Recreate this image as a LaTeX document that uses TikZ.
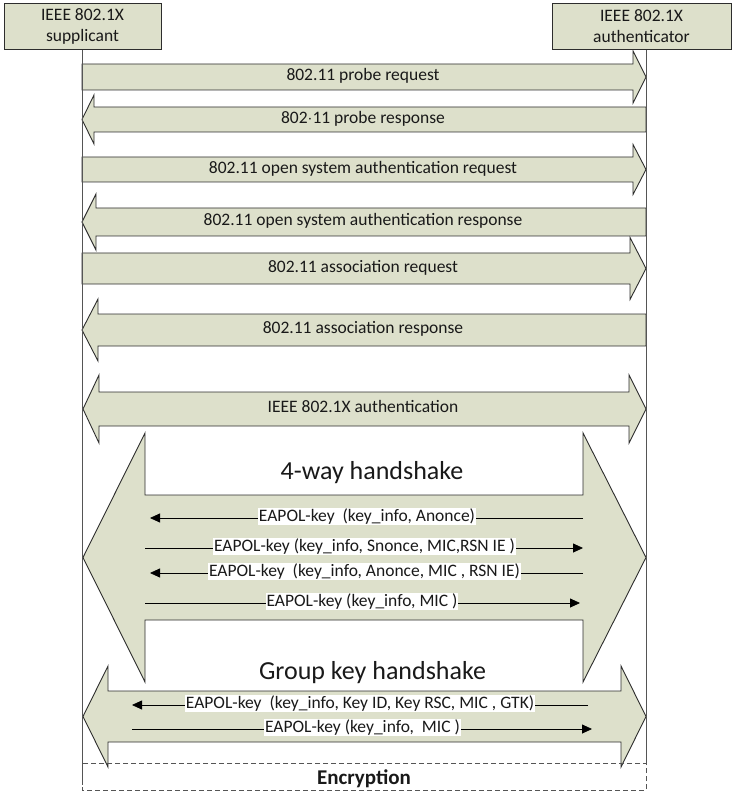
\documentclass[tikz,border=0pt]{standalone}
\usepackage{fontspec}
\setmainfont{Carlito}
\usetikzlibrary{arrows.meta}

\definecolor{boxfill}{RGB}{221,224,203}
\definecolor{edge}{RGB}{45,45,45}
\definecolor{life}{RGB}{85,85,85}
\definecolor{ink}{RGB}{25,25,25}

\tikzset{
  flow/.style={fill=boxfill, draw=edge, line width=0.9pt, line join=miter},
  entity/.style={rectangle, fill=boxfill, draw=edge, line width=0.9pt,
    minimum height=46pt, inner sep=0pt, align=center, text=ink,
    font=\fontsize{17.5}{21}\selectfont},
  lbl/.style={font=\fontsize{17.5}{21}\selectfont, text=ink, anchor=mid,
    inner sep=0pt, yshift=-1.5pt},
  title/.style={font=\fontsize{26}{30}\selectfont, text=ink, anchor=base, inner sep=0pt},
  keylbl/.style={fill=white, font=\fontsize{17.5}{21}\selectfont, text=ink,
    inner sep=1pt, anchor=mid, yshift=-1pt},
  keymsg/.style={draw=black, line width=0.8pt, -{Triangle[length=10pt,width=9pt]}},
  lifeline/.style={draw=life, line width=1pt},
  encbox/.style={draw=life, line width=0.8pt, dash pattern=on 5pt off 3pt},
}

% right-pointing message: centre y, body half height, head half height, head base x
\newcommand\msgRight[4]{%
  \draw[flow] (82,{#1-#2}) -- (#4,{#1-#2}) -- (#4,{#1-#3}) -- (646,#1)
    -- (#4,{#1+#3}) -- (#4,{#1+#2}) -- (82,{#1+#2}) -- cycle;}
% left-pointing message
\newcommand\msgLeft[4]{%
  \draw[flow] (646,{#1-#2}) -- (#4,{#1-#2}) -- (#4,{#1-#3}) -- (82,#1)
    -- (#4,{#1+#3}) -- (#4,{#1+#2}) -- (646,{#1+#2}) -- cycle;}
% two-way exchange: centre y, body half height, head half height, left base x, right base x
\newcommand\msgBoth[5]{%
  \draw[flow] (#4,{#1-#2}) -- (#5,{#1-#2}) -- (#5,{#1-#3}) -- (646,#1)
    -- (#5,{#1+#3}) -- (#5,{#1+#2}) -- (#4,{#1+#2}) -- (#4,{#1+#3})
    -- (83,#1) -- (#4,{#1-#3}) -- cycle;}

\begin{document}
\begin{tikzpicture}[x=1pt, y=-1pt]
  \useasboundingbox (0,0) rectangle (732,791);

  % end points of the two lifelines
  \coordinate (supTop) at (82,49);
  \coordinate (supBot) at (82,785);
  \coordinate (authTop) at (646,49);
  \coordinate (authBot) at (646,763);

  % message exchanges
  \msgRight{77}{13}{26}{633}
  \node[lbl] (probeReq) at (363,77) {802.11 probe request};

  \msgLeft{119.5}{12.5}{24.5}{94}
  \node[lbl] (probeResp) at (363,119.5) {802$\cdot$11 probe response};

  \msgRight{169.5}{12.5}{25}{633}
  \node[lbl] (openReq) at (363,169.5) {802.11 open system authentication request};

  \msgLeft{222}{14}{28}{96}
  \node[lbl] (openResp) at (363,222) {802.11 open system authentication response};

  \msgRight{268.5}{15.5}{31}{630}
  \node[lbl] (assocReq) at (363,268.5) {802.11 association request};

  \msgLeft{330}{16}{31}{98}
  \node[lbl] (assocResp) at (363,330) {802.11 association response};

  \msgBoth{409}{17}{34}{99}{629}
  \node[lbl] (dotx) at (363,409) {IEEE 802.1X authentication};

  % 4-way handshake
  \msgBoth{557.5}{62.5}{124.5}{145}{583}
  \node[title] (fourway) at (372,479) {4-way handshake};

  \coordinate (m1s) at (583,518); \coordinate (m1e) at (150,518);
  \coordinate (m2s) at (145,548); \coordinate (m2e) at (583,548);
  \coordinate (m3s) at (583,573); \coordinate (m3e) at (150,573);
  \coordinate (m4s) at (145,603); \coordinate (m4e) at (580,603);
  \draw[keymsg] (m1s) -- (m1e);
  \draw[keymsg] (m2s) -- (m2e);
  \draw[keymsg] (m3s) -- (m3e);
  \draw[keymsg] (m4s) -- (m4e);
  \node[keylbl] (m1) at (367,518) {EAPOL-key\ \ (key\_info, Anonce)};
  \node[keylbl] (m2) at (364.5,548) {EAPOL-key (key\_info, Snonce, MIC,RSN IE )};
  \node[keylbl] (m3) at (364.5,573) {EAPOL-key\ \ (key\_info, Anonce, MIC , RSN IE)};
  \node[keylbl] (m4) at (362,603) {EAPOL-key (key\_info, MIC )};

  % group key handshake
  \msgBoth{716.5}{25.5}{50.5}{108}{621}
  \node[title] (groupkey) at (372.5,679) {Group key handshake};

  \coordinate (g1s) at (588,705); \coordinate (g1e) at (132,705);
  \coordinate (g2s) at (132,729); \coordinate (g2e) at (592,729);
  \draw[keymsg] (g1s) -- (g1e);
  \draw[keymsg] (g2s) -- (g2e);
  \node[keylbl] (g1) at (360,705) {EAPOL-key\ \ (key\_info, Key ID, Key RSC, MIC , GTK)};
  \node[keylbl] (g2) at (362.5,729) {EAPOL-key (key\_info,\ \ MIC )};

  % lifelines
  \draw[lifeline] (supTop) -- (supBot);
  \draw[lifeline] (authTop) -- (authBot);

  % encryption phase
  \draw[encbox] (82,763) rectangle (646,790);
  \node[font=\fontsize{21}{25}\bfseries, text=ink, anchor=base, inner sep=0pt]
    (enc) at (364,784) {Encryption};

  % parties
  \node[entity, minimum width=157pt] (sup) at (82.5,26) {IEEE 802.1X\\supplicant};
  \node[entity, minimum width=179pt] (auth) at (641.5,26) {IEEE 802.1X\\authenticator};
\end{tikzpicture}
\end{document}
